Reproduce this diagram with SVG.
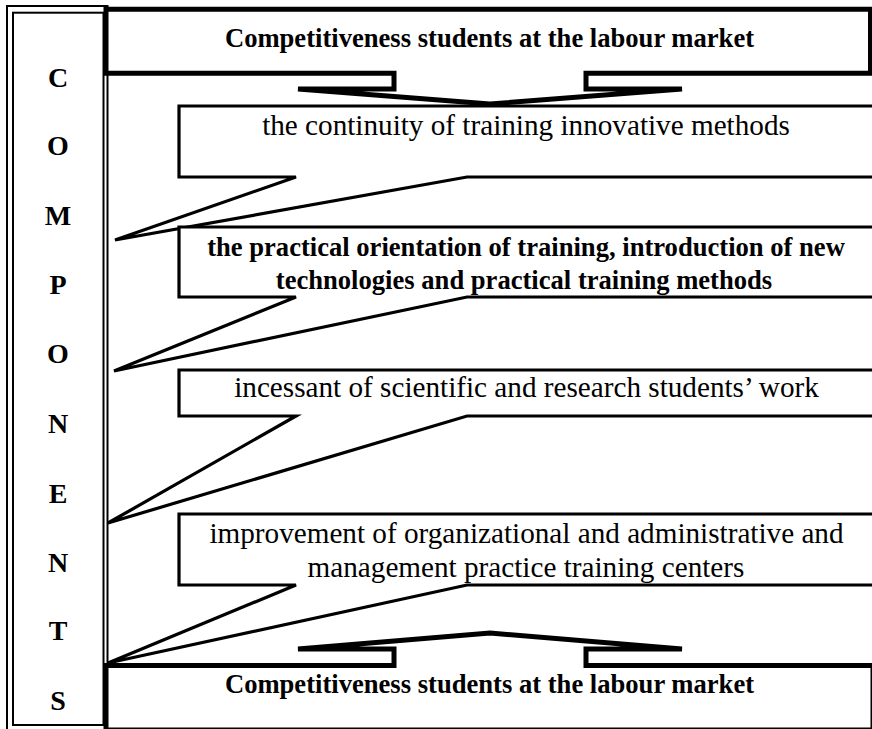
<svg xmlns="http://www.w3.org/2000/svg" width="872" height="729" viewBox="0 0 872 729">
<style>
.frame{fill:none;stroke:#000;stroke-width:2}
.box{fill:#fff;stroke:#000;stroke-width:5;stroke-linejoin:miter}
.cfill{fill:#fff;stroke:none}
.cline{fill:none;stroke:#000;stroke-width:3.2;stroke-linejoin:miter;stroke-miterlimit:4}
.b{font-family:"Liberation Serif","Times New Roman",serif;font-weight:bold;font-size:26.6px;fill:#000;text-anchor:middle}
.r{font-family:"Liberation Serif","Times New Roman",serif;font-size:29.2px;fill:#000;text-anchor:middle}
.l{font-family:"Liberation Serif","Times New Roman",serif;font-weight:bold;font-size:28px;fill:#000;text-anchor:middle}
</style>
<rect width="872" height="729" fill="#fff"/>
<g id="components">
<rect class="frame" x="7" y="6" width="100.5" height="730"/>
<rect class="frame" x="13" y="12.7" width="90.5" height="712.3"/>
<text class="l" x="58" y="87">C</text>
<text class="l" x="58" y="155">O</text>
<text class="l" x="58" y="225">M</text>
<text class="l" x="58" y="294">P</text>
<text class="l" x="58" y="363">O</text>
<text class="l" x="58" y="433">N</text>
<text class="l" x="58" y="503">E</text>
<text class="l" x="58" y="572">N</text>
<text class="l" x="58" y="640">T</text>
<text class="l" x="58" y="710">S</text>
</g>
<g id="top">
<path class="box" d="M106,9.2 H870.5 V73.3 H586 V89 H682 L490,104 L298,89 H394 V73.3 H106 Z"/>
<text class="b" x="489.5" y="47">Competitiveness students at the labour market</text>
</g>
<g id="bottom">
<path class="box" d="M106,665.5 H394 V649 H298 L490,633 L682,649 H586 V665.5 H873 V730 H106 Z"/>
<text class="b" x="489.5" y="693">Competitiveness students at the labour market</text>
</g>
<g id="connectors">
</g>
<g id="box1">
<path class="cfill" d="M179,106 H885 V177 H467 L115,240 L296,177 H179 Z"/>
<text class="r" x="526" y="135">the continuity of training innovative methods</text>
<path class="cline" d="M179,106 H885 V177 H467 L115,240 L296,177 H179 Z"/>
</g>
<g id="box2">
<path class="cfill" d="M179,227 H885 V297 H467 L114,371 L296,297 H179 Z"/>
<text class="b" x="526" y="256">the practical orientation of training, introduction of new</text>
<text class="b" x="524" y="289">technologies and practical training methods</text>
<path class="cline" d="M179,227 H885 V297 H467 L114,371 L296,297 H179 Z"/>
</g>
<g id="box3">
<path class="cfill" d="M179,370 H885 V416 H467 L108,523 L296,416 H179 Z"/>
<text class="r" x="526.5" y="397">incessant of scientific and research students’ work</text>
<path class="cline" d="M179,370 H885 V416 H467 L108,523 L296,416 H179 Z"/>
</g>
<g id="box4">
<path class="cfill" d="M179,514 H885 V585 H467 L108,663 L296,585 H179 Z"/>
<text class="r" x="526.5" y="543">improvement of organizational and administrative and</text>
<text class="r" x="526" y="577">management practice training centers</text>
<path class="cline" d="M179,514 H885 V585 H467 L108,663 L296,585 H179 Z"/>
</g>
</svg>
